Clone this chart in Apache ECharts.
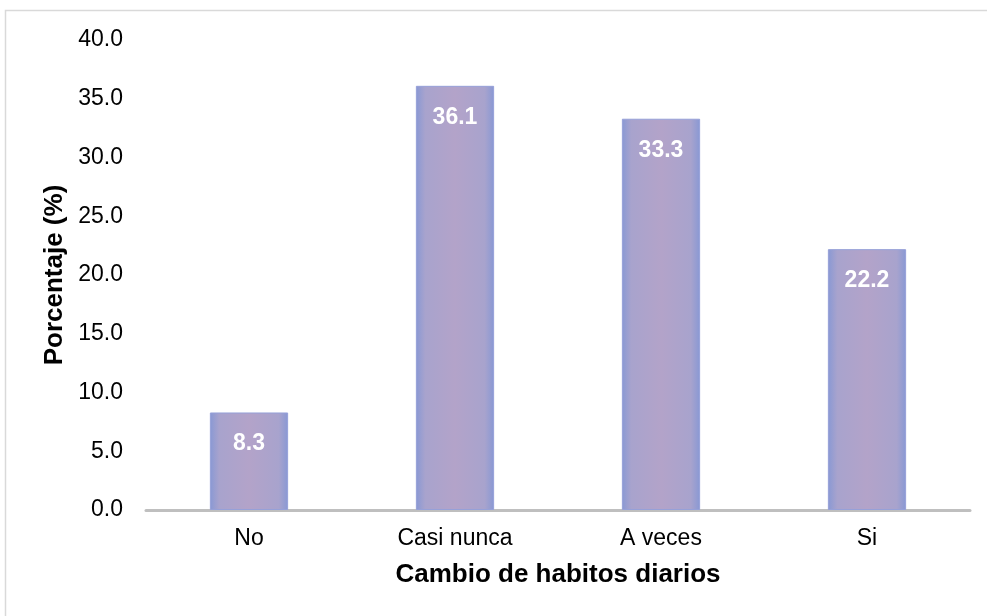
<!DOCTYPE html>
<html>
<head>
<meta charset="utf-8">
<script src="https://cdn.jsdelivr.net/npm/echarts@6/dist/echarts.min.js"></script>
<style>
  html, body { margin: 0; padding: 0; background: #fff; }
  #chart { width: 987px; height: 616px; }
</style>
</head>
<body>
<div id="chart"></div>
<script>
const categories = ["No", "Casi nunca", "A veces", "Si"];
const values = [8.3, 36.1, 33.3, 22.2];
const xTitle = "Cambio de habitos diarios";
const yTitle = "Porcentaje (%)";

// barra con bordes azulados y centro lila
const barFill = new echarts.graphic.LinearGradient(0, 0, 1, 0, [
  { offset: 0, color: "#8898d4" },
  { offset: 0.12, color: "#a8a3cd" },
  { offset: 0.5, color: "#b3a3c9" },
  { offset: 0.88, color: "#a8a3cd" },
  { offset: 1, color: "#8898d4" },
]);

const font = "Liberation Sans, Arial";

const chart = echarts.init(document.getElementById("chart"));
chart.setOption({
  animation: false,
  graphic: [
    {
      type: "rect",
      shape: { x: 5.5, y: 10.5, width: 1000, height: 700 },
      style: { fill: "none", stroke: "#d9d9d9", lineWidth: 1.5 },
      silent: true,
    },
  ],
  grid: { left: 146, right: 17, top: 40, bottom: 106 },
  xAxis: {
    type: "category",
    data: categories,
    axisTick: { show: false },
    axisLine: { lineStyle: { color: "#bfbfbf", width: 3 } },
    axisLabel: { color: "#000", fontSize: 23, fontFamily: font, margin: 17 },
    name: xTitle,
    nameLocation: "middle",
    nameGap: 52,
    nameTextStyle: { color: "#000", fontSize: 26, fontWeight: "bold", fontFamily: font },
  },
  yAxis: {
    type: "value",
    min: 0,
    max: 40,
    interval: 5,
    axisLine: { show: false },
    axisTick: { show: false },
    splitLine: { show: false },
    axisLabel: {
      color: "#000",
      fontSize: 23,
      fontFamily: font,
      margin: 23,
      formatter: (v) => v.toFixed(1),
    },
    name: yTitle,
    nameLocation: "middle",
    nameGap: 74,
    nameTextStyle: { color: "#000", fontSize: 26, fontWeight: "bold", fontFamily: font },
  },
  series: [
    {
      type: "bar",
      data: values,
      barWidth: "38%",
      itemStyle: { color: barFill, borderColor: "#96a0d8", borderWidth: 1 },
      label: {
        show: true,
        position: "insideTop",
        distance: 20,
        color: "#fff",
        fontSize: 23,
        fontWeight: "bold",
        fontFamily: font,
        formatter: (p) => p.value.toFixed(1),
      },
    },
  ],
});
</script>
</body>
</html>
